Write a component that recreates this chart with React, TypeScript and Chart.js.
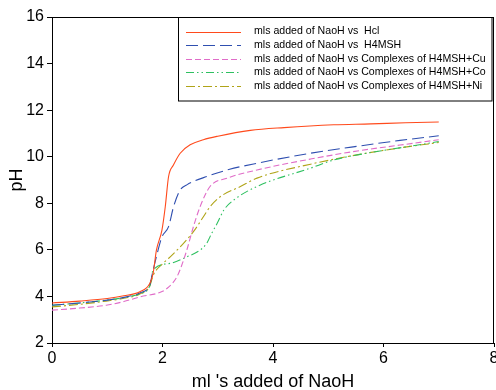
import React, { useEffect, useRef } from "react";
import { Chart, registerables } from "chart.js";

Chart.register(...registerables);

const seriesLabels = [
  "mls added of NaoH vs  Hcl",
  "mls added of NaoH vs  H4MSH",
  "mls added of NaoH vs Complexes of H4MSH+Cu",
  "mls added of NaoH vs Complexes of H4MSH+Co",
  "mls added of NaoH vs Complexes of H4MSH+Ni",
];

const hclX = [0, 0.5, 1.0, 1.3, 1.59, 1.77, 1.83, 1.89, 1.99, 2.05, 2.11, 2.2, 2.32, 2.5, 2.74, 3.0, 3.59, 4.2, 5.1, 5.77, 6.4, 7.0];
const hclY = [3.72, 3.8, 3.91, 4.03, 4.2, 4.56, 4.99, 5.99, 6.85, 7.85, 9.15, 9.65, 10.15, 10.51, 10.73, 10.88, 11.13, 11.25, 11.37, 11.41, 11.46, 11.49];

const h4mshX = [0, 0.5, 1.0, 1.3, 1.59, 1.77, 1.83, 1.92, 1.99, 2.11, 2.2, 2.32, 2.44, 2.8, 3.2, 3.71, 4.68, 5.59, 6.3, 7.0];
const h4mshY = [3.62, 3.72, 3.84, 3.96, 4.15, 4.5, 5.13, 5.99, 6.56, 7.0, 7.85, 8.57, 8.79, 9.15, 9.45, 9.72, 10.15, 10.47, 10.7, 10.9];

const cuX = [0, 0.5, 0.98, 1.3, 1.59, 1.95, 2.08, 2.26, 2.35, 2.44, 2.56, 2.68, 2.86, 3.17, 3.71, 4.68, 5.59, 6.3, 7.0];
const cuY = [3.41, 3.5, 3.62, 3.78, 3.98, 4.17, 4.34, 4.84, 5.35, 5.99, 7.0, 7.85, 8.72, 9.08, 9.43, 9.9, 10.27, 10.5, 10.73];

const coX = [0, 0.5, 0.98, 1.3, 1.59, 1.77, 1.83, 2.14, 2.44, 2.68, 2.8, 2.89, 2.99, 3.11, 3.29, 3.71, 4.68, 5.1, 5.77, 6.4, 7.0];
const coY = [3.62, 3.72, 3.84, 3.95, 4.12, 4.45, 5.13, 5.42, 5.7, 5.99, 6.28, 6.71, 7.14, 7.71, 8.14, 8.72, 9.51, 9.86, 10.18, 10.42, 10.65];

const niX = [0, 0.5, 0.98, 1.3, 1.59, 1.77, 1.83, 2.0, 2.14, 2.38, 2.56, 2.74, 2.86, 3.05, 3.41, 3.71, 4.68, 5.59, 6.3, 7.0];
const niY = [3.55, 3.66, 3.8, 3.92, 4.1, 4.45, 4.9, 5.4, 5.7, 6.28, 6.78, 7.42, 7.85, 8.29, 8.72, 9.08, 9.68, 10.11, 10.38, 10.61];

const xTicks = [0, 2, 4, 6, 8];
const yTicks = [2, 4, 6, 8, 10, 12, 14, 16];

const colors = ["#ff4a1c", "#2f4fb0", "#e06cc8", "#2ec060", "#b0a418"];
const dashes = [[], [12, 5], [6, 3], [8, 3, 1.5, 3, 1.5, 3], [9, 3, 2, 3]];

const FONT = "'Liberation Sans', Arial, sans-serif";

const toPts = (xs: number[], ys: number[]) => xs.map((x, i) => ({ x, y: ys[i] }));

const legendPlugin = {
  id: "boxLegend",
  afterDraw(chart: any) {
    const ctx = chart.ctx;
    const bx = 178.5, by = 17.5, bw = 313.5, bh = 83.5;
    ctx.save();
    ctx.fillStyle = "#fff";
    ctx.fillRect(bx, by, bw, bh);
    ctx.strokeStyle = "#000";
    ctx.lineWidth = 1;
    ctx.setLineDash([]);
    ctx.strokeRect(bx, by, bw, bh);
    ctx.font = `10.6px ${FONT}`;
    ctx.textBaseline = "middle";
    ctx.fillStyle = "#000";
    seriesLabels.forEach((lab, i) => {
      const y = 31.5 + i * 13.6;
      ctx.strokeStyle = colors[i];
      ctx.setLineDash(dashes[i]);
      ctx.beginPath();
      ctx.moveTo(186, Math.round(y) + 0.5);
      ctx.lineTo(241, Math.round(y) + 0.5);
      ctx.stroke();
      ctx.setLineDash([]);
      ctx.fillText(lab, 254, y);
    });
    ctx.restore();
  },
  beforeDatasetsDraw(chart: any) {
    const { ctx, chartArea } = chart;
    ctx.save();
    ctx.strokeStyle = "#000";
    ctx.lineWidth = 1;
    ctx.beginPath();
    ctx.moveTo(chartArea.left, Math.round(chartArea.top) + 0.5);
    ctx.lineTo(chartArea.right, Math.round(chartArea.top) + 0.5);
    ctx.moveTo(Math.round(chartArea.right) - 0.5, chartArea.top);
    ctx.lineTo(Math.round(chartArea.right) - 0.5, chartArea.bottom);
    ctx.stroke();
    ctx.restore();
  },
};

export default function App() {
  const ref = useRef<HTMLCanvasElement>(null);
  useEffect(() => {
    if (!ref.current) return;
    const series = [
      toPts(hclX, hclY),
      toPts(h4mshX, h4mshY),
      toPts(cuX, cuY),
      toPts(coX, coY),
      toPts(niX, niY),
    ];
    const chart = new Chart(ref.current, {
      type: "line",
      data: {
        datasets: series.map((d, i) => ({
          label: seriesLabels[i],
          data: d,
          borderColor: colors[i],
          borderWidth: 1.1,
          borderDash: dashes[i],
          pointRadius: 0,
          cubicInterpolationMode: "monotone",
          fill: false,
        })),
      },
      options: {
        animation: false,
        responsive: false,
        layout: { autoPadding: false, padding: { top: 17, right: 2, left: 0, bottom: 0 } },
        plugins: { legend: { display: false }, tooltip: { enabled: false } },
        scales: {
          x: {
            type: "linear",
            min: 0,
            max: 8,
            afterBuildTicks: (s: any) => {
              s.ticks = xTicks.map((v) => ({ value: v }));
            },
            afterFit: (s: any) => {
              s.height = 47;
              s.paddingRight = 0;
              s.paddingLeft = 0;
            },
            ticks: { color: "#000", font: { family: FONT, size: 16 }, padding: 2, maxRotation: 0 },
            grid: { display: true, drawOnChartArea: false, tickLength: 4, color: "#000" },
            border: { display: true, color: "#000", width: 1 },
            title: {
              display: true,
              text: "ml 's added of NaoH",
              color: "#000",
              font: { family: FONT, size: 18, lineHeight: 1 },
              padding: { top: 0, bottom: -1 },
            },
          },
          y: {
            type: "linear",
            min: 2,
            max: 16,
            afterBuildTicks: (s: any) => {
              s.ticks = yTicks.map((v) => ({ value: v }));
            },
            afterFit: (s: any) => {
              s.width = 52;
            },
            ticks: { color: "#000", font: { family: FONT, size: 16 }, padding: 3 },
            grid: { display: true, drawOnChartArea: false, tickLength: 5, color: "#000" },
            border: { display: true, color: "#000", width: 1 },
            title: {
              display: true,
              text: "pH",
              color: "#000",
              font: { family: FONT, size: 18, lineHeight: 1 },
              padding: { top: 8, bottom: 0 },
            },
          },
        },
      },
      plugins: [legendPlugin],
    } as any);
    return () => chart.destroy();
  }, []);
  return (
    <div style={{ position: "fixed", left: 0, top: 0, width: 496, height: 390, background: "#fff" }}>
      <canvas ref={ref} width={496} height={390} style={{ display: "block" }} />
    </div>
  );
}
